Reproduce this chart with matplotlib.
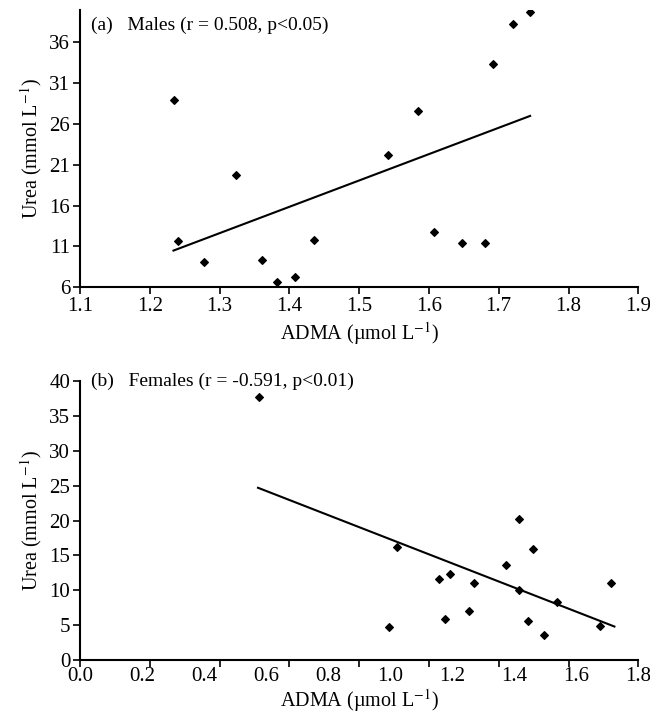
import numpy as np
import matplotlib
matplotlib.use("Agg")
import matplotlib.pyplot as plt

plt.rcParams['font.family'] = ['Liberation Serif', 'DejaVu Serif']
plt.rcParams['mathtext.fontset'] = 'stix'

# (a) males
male_admA = [1.235, 1.241, 1.278, 1.323, 1.361, 1.382, 1.408, 1.435,
             1.542, 1.584, 1.607, 1.647, 1.680, 1.692, 1.721, 1.745]
male_urea = [28.9, 11.7, 9.1, 19.7, 9.3, 6.65, 7.3, 11.8,
             22.15, 27.55, 12.75, 11.45, 11.45, 33.4, 38.3, 39.7]
male_fit_x = [1.234, 1.745]
male_fit_y = [10.5, 27.0]

# (b) females
female_admA = [0.578, 1.022, 0.996, 1.156, 1.176, 1.193, 1.253, 1.271, 1.374,
               1.414, 1.414, 1.444, 1.459, 1.495, 1.539, 1.677, 1.713]
female_urea = [37.75, 16.15, 4.8, 11.6, 5.85, 12.4, 7.0, 11.1, 13.6,
               20.2, 10.05, 5.6, 15.9, 3.65, 8.3, 4.9, 11.1]
female_fit_x = [0.574, 1.723]
female_fit_y = [24.7, 4.8]

male_yticks = [6, 11, 16, 21, 26, 31, 36]
male_xticks = [1.1, 1.2, 1.3, 1.4, 1.5, 1.6, 1.7, 1.8, 1.9]
female_yticks = [0, 5, 10, 15, 20, 25, 30, 35, 40]
female_xlabels = ['0.0', '0.2', '0.4', '0.6', '0.8', '1.0', '1.2', '1.4', '1.6', '1.8']

fs = 14
tfs = 15
ylab = 'Urea (mmol L$^{-1}$)'
xlab = 'ADMA (\u00b5mol L$^{-1}$)'

fig = plt.figure(figsize=(6.5, 7.17), dpi=100)
ax1 = fig.add_axes([0.123, 0.5993, 0.859, 0.387])
ax2 = fig.add_axes([0.123, 0.0795, 0.859, 0.389])


def style(ax):
    for s in ['top', 'right']:
        ax.spines[s].set_visible(False)
    for s in ['left', 'bottom']:
        ax.spines[s].set_linewidth(1.5)
    ax.tick_params(direction='out', length=5, width=1.2, labelsize=tfs, pad=2)


# top panel
ax1.scatter(male_admA, male_urea, marker='D', s=15, color='black', zorder=3)
ax1.plot(male_fit_x, male_fit_y, color='black', lw=1.5)
ax1.set_xlim(1.1, 1.9)
ax1.set_ylim(6, 40)
ax1.set_xticks(male_xticks)
ax1.set_yticks(male_yticks)
style(ax1)
ax1.set_xlabel(xlab, fontsize=fs + 0.5, labelpad=3)
ax1.set_ylabel(ylab, fontsize=fs + 0.5, labelpad=4)
ax1.text(0.02, 0.975, '(a)   Males (r = 0.508, p<0.05)', transform=ax1.transAxes,
         fontsize=fs, va='top', ha='left')

# bottom panel
ax2.scatter(female_admA, female_urea, marker='D', s=15, color='black', zorder=3)
ax2.plot(female_fit_x, female_fit_y, color='black', lw=1.5)
ax2.set_xlim(0, 1.8)
ax2.set_ylim(0, 40)
ax2.set_yticks(female_yticks)
# tick marks and labels do not line up in the original
ax2.xaxis.remove_overlapping_locs = False
ax2.set_xticks(np.linspace(0, 1.8, 9))
ax2.set_xticklabels([])
ax2.set_xticks(np.linspace(0, 1.8, len(female_xlabels)), minor=True)
ax2.set_xticklabels(female_xlabels, minor=True)
style(ax2)
ax2.tick_params(axis='x', which='minor', length=0, labelsize=tfs, pad=5)
ax2.set_xlabel(xlab, fontsize=fs + 0.5, labelpad=1)
ax2.set_ylabel(ylab, fontsize=fs + 0.5, labelpad=4)
ax2.text(0.02, 1.0, '(b)   Females (r = -0.591, p<0.01)', transform=ax2.transAxes,
         fontsize=fs, va='center', ha='left')

fig.savefig('out.png', dpi=100)
